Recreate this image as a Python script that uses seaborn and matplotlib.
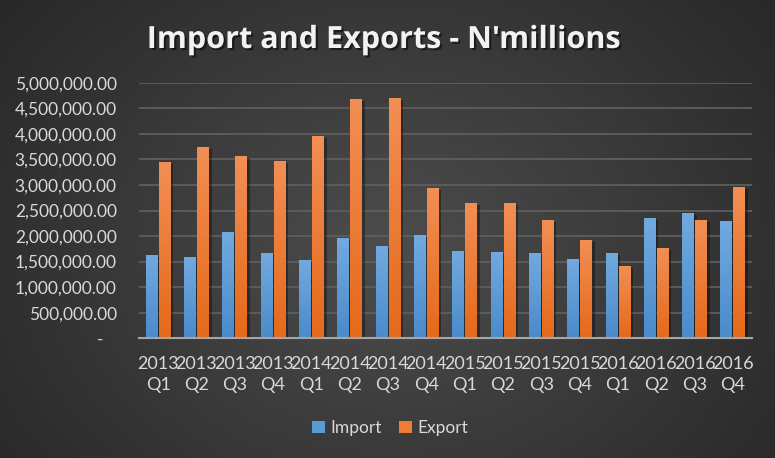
import numpy as np
import pandas as pd
import matplotlib
matplotlib.use("Agg")
import matplotlib.pyplot as plt
import matplotlib.patheffects as pe
from matplotlib.patches import Patch
from matplotlib.colors import LinearSegmentedColormap, to_rgb
import seaborn as sns

# ---- data ----
years = ["2013", "2013", "2013", "2013", "2014", "2014", "2014", "2014",
         "2015", "2015", "2015", "2015", "2016", "2016", "2016", "2016"]
quarters = ["Q1", "Q2", "Q3", "Q4"] * 4
import_vals = [1630000, 1590000, 2080000, 1670000, 1530000, 1960000, 1810000, 2020000,
               1710000, 1690000, 1670000, 1550000, 1670000, 2350000, 2450000, 2290000]
export_vals = [3450000, 3740000, 3570000, 3470000, 3960000, 4680000, 4700000, 2940000,
               2650000, 2650000, 2310000, 1920000, 1410000, 1770000, 2310000, 2960000]
series = ["Import", "Export"]

periods = [f"{y}\n{q}" for y, q in zip(years, quarters)]
df = pd.DataFrame({
    "Period": periods * 2,
    "Series": ["Import"] * len(periods) + ["Export"] * len(periods),
    "Value": import_vals + export_vals,
})

sns.set_theme(style="dark")
plt.rcParams["font.family"] = ["Lato", "DejaVu Sans"]

W, H = 775, 458
fig = plt.figure(figsize=(W / 100, H / 100), dpi=100)

# background radial gradient
bg = fig.add_axes([0, 0, 1, 1], zorder=-10)
yy, xx = np.mgrid[0:H, 0:W]
r = np.sqrt(((xx - 390) / 520.0) ** 2 + ((yy - 250) / 420.0) ** 2)
r = np.clip(r, 0, 1)
c_in = np.array(to_rgb("#4d4d4d"))
c_out = np.array(to_rgb("#262626"))
img = c_in[None, None, :] * (1 - r[..., None]) + c_out[None, None, :] * r[..., None]
bg.imshow(img, aspect="auto", extent=[0, 1, 0, 1])
bg.axis("off")

ax = fig.add_axes([139 / W, 1 - 338.3 / H, (752 - 139) / W, (338.3 - 82.7) / H])
ax.set_facecolor("none")

pal = {"Import": "#5B9BD5", "Export": "#ED7D31"}
sns.barplot(data=df, x="Period", y="Value", hue="Series", palette=pal,
            width=0.68, gap=0.1, ax=ax, legend=False, saturation=1,
            linewidth=0, edgecolor="none")

ax.set_ylim(0, 5_000_000)
ax.set_xlim(-0.5, len(periods) - 0.5)

# gradient fill on bars
grads = {
    "Import": ("#4a8bcb", "#72aae0"),
    "Export": ("#e5691a", "#f28f55"),
}
n = len(periods)
for i, p in enumerate(list(ax.patches)):
    key = "Import" if i < n else "Export"
    lo, hi = grads[key]
    x0, y0 = p.get_x(), p.get_y()
    w, h = p.get_width(), p.get_height()
    if h <= 0:
        continue
    p.set_linewidth(0)
    p.set_edgecolor("none")
    cmap = LinearSegmentedColormap.from_list("g", [lo, hi])
    grad = np.linspace(0, 1, 256).reshape(-1, 1)
    im = ax.imshow(grad, cmap=cmap, origin="lower", aspect="auto",
                   extent=[x0, x0 + w, y0, y0 + h], zorder=3)
    im.set_clip_path(p)
    p.set_path_effects([pe.SimplePatchShadow(offset=(2, -1.5), shadow_rgbFace="black", alpha=0.35),
                        pe.Normal()])
    p.set_zorder(2)
ax.set_xlim(-0.5, len(periods) - 0.5)
ax.set_ylim(0, 5_000_000)

# grid and spines
ax.set_yticks(np.arange(0, 5_000_001, 500_000))
ax.yaxis.grid(True, color="#5e5e5e", linewidth=1.3, zorder=0)
ax.xaxis.grid(False)
ax.set_axisbelow(True)
for s in ["top", "right", "left"]:
    ax.spines[s].set_visible(False)
ax.spines["bottom"].set_color("#a6a6a6")
ax.spines["bottom"].set_linewidth(1.5)
ax.spines["bottom"].set_zorder(5)

ax.yaxis.set_major_formatter(matplotlib.ticker.FuncFormatter(
    lambda v, _: "-   " if v == 0 else f"{v:,.2f}"))
ax.tick_params(axis="y", length=0, pad=16, labelsize=12.5, labelcolor="#d9d9d9")
ax.tick_params(axis="x", length=0, pad=13, labelsize=13, labelcolor="#d9d9d9")
for t in ax.get_xticklabels():
    t.set_linespacing(1.35)
ax.set_xlabel("")
ax.set_ylabel("")

# title
fig.text(383 / W, 1 - 40 / H, "Import and Exports - N'millions",
         ha="center", va="center", fontsize=22, fontweight="bold", color="#f2f2f2",
         family=["Open Sans", "DejaVu Sans"],
         path_effects=[pe.withSimplePatchShadow(offset=(1.5, -1.5), shadow_rgbFace="black", alpha=0.5)])

# legend
handles = [Patch(facecolor=pal[s], edgecolor="none") for s in series]
leg = fig.legend(handles, series, loc="center", bbox_to_anchor=(390 / W, 1 - 428 / H),
                 ncol=2, frameon=False, handlelength=0.75, handleheight=0.75,
                 handletextpad=0.3, columnspacing=1.0, fontsize=12.5)
for t in leg.get_texts():
    t.set_color("#d9d9d9")

fig.savefig("out.png", dpi=100)
